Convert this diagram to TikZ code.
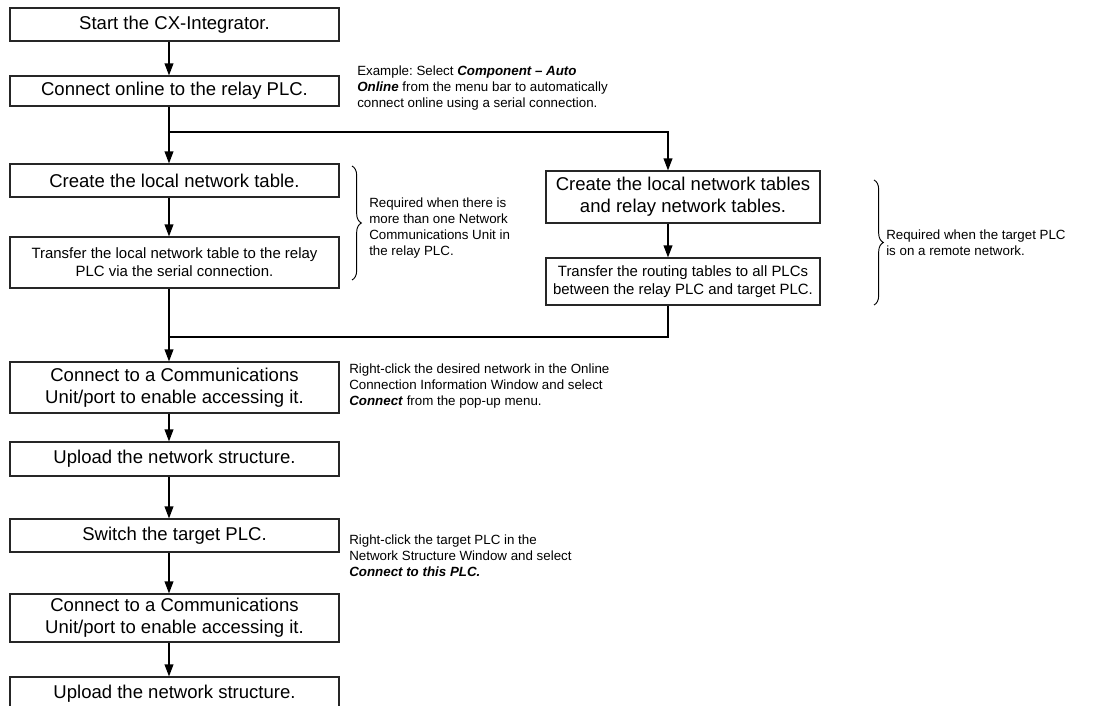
\documentclass[tikz,border=0pt]{standalone}
\usepackage{fontspec}
\setmainfont{Liberation Sans}
\usetikzlibrary{arrows.meta,decorations.pathreplacing,shadows}
\frenchspacing

\begin{document}
\begin{tikzpicture}[x=0.75pt,y=-0.75pt,
  flowbox/.style={draw=black!85, line width=0.8pt, fill=white, inner sep=0pt, align=center,
    drop shadow={shadow xshift=1pt, shadow yshift=-1pt, fill=black!45, opacity=0.6}},
  leftbox/.style={flowbox, minimum width=246.75pt},
  rightbox/.style={flowbox, minimum width=205.5pt},
  big/.style={font=\fontsize{13.9}{16.6}\selectfont},
  small/.style={font=\fontsize{11.2}{13.6}\selectfont},
  note/.style={font=\fontsize{10}{12}\selectfont, align=left, inner sep=0pt, anchor=west},
  flow/.style={line width=1.1pt, -{Triangle[length=9pt,width=6.5pt]}},
  link/.style={line width=1.1pt},
  curly/.style={decorate, decoration={brace, amplitude=7pt}, line width=0.7pt}
]
\useasboundingbox (0,0) rectangle (1102,706);

% reference lines for the connectors
\coordinate (ax) at (169,0);
\coordinate (rx) at (668,0);
\coordinate (split) at (169,132);
\coordinate (join) at (169,337);

% main column
\node[leftbox, big, minimum height=24.75pt] (b1) at (174.5,24.5) {Start the CX-Integrator.};
\node[leftbox, big, minimum height=22.5pt]  (b2) at (174.5,91) {Connect online to the relay PLC.};
\node[leftbox, big, minimum height=24.75pt] (b3) at (174.5,180.5) {Create the local network table.};
\node[leftbox, small, minimum height=38.25pt] (b4) at (174.5,262.5) {Transfer the local network table to the relay\\PLC via the serial connection.};
\node[leftbox, big, minimum height=38.25pt] (b5) at (174.5,387.5) {Connect to a Communications\\Unit/port to enable accessing it.};
\node[leftbox, big, minimum height=25.5pt]  (b6) at (174.5,459) {Upload the network structure.};
\node[leftbox, big, minimum height=24.75pt] (b7) at (174.5,535.5) {Switch the target PLC.};
\node[leftbox, big, minimum height=36pt]    (b8) at (174.5,618) {Connect to a Communications\\Unit/port to enable accessing it.};
\node[leftbox, big, minimum height=25.5pt]  (b9) at (174.5,694) {Upload the network structure.};

% remote-network branch
\node[rightbox, big, minimum height=39pt]    (ra) at (683,197) {Create the local network tables\\and relay network tables.};
\node[rightbox, small, minimum height=35.25pt] (rb) at (683,281.5) {Transfer the routing tables to all PLCs\\between the relay PLC and target PLC.};

% connectors
\draw[flow] (b1.south -| ax) -- (b2.north -| ax);
\draw[flow] (b2.south -| ax) -- (b3.north -| ax);
\draw[flow] (split) -| (ra.north -| rx);
\draw[flow] (b3.south -| ax) -- (b4.north -| ax);
\draw[flow] (ra.south -| rx) -- (rb.north -| rx);
\draw[flow] (b4.south -| ax) -- (b5.north -| ax);
\draw[link] (rb.south -| rx) |- (join);
\draw[flow] (b5.south -| ax) -- (b6.north -| ax);
\draw[flow] (b6.south -| ax) -- (b7.north -| ax);
\draw[flow] (b7.south -| ax) -- (b8.north -| ax);
\draw[flow] (b8.south -| ax) -- (b9.north -| ax);

% braces
\coordinate (lbt) at (352,166);
\coordinate (lbb) at (352,280);
\coordinate (rbt) at (874,180);
\coordinate (rbb) at (874,305);
\draw[curly] (lbt) -- (lbb);
\draw[curly] (rbt) -- (rbb);

% annotations
\node[note] (n1) at (357,88) {Example: Select \textbf{\textit{Component – Auto}}\\\textbf{\textit{Online}} from the menu bar to automatically\\connect online using a serial connection.};
\node[note] (nl) at (369,228) {Required when there is\\more than one Network\\Communications Unit in\\the relay PLC.};
\node[note] (nr) at (886,242.5) {Required when the target PLC\\is on a remote network.};
\node[note] (n2) at (349,386) {Right-click the desired network in the Online\\Connection Information Window and select\\\textbf{\textit{Connect}} from the pop-up menu.};
\node[note] (n3) at (349,556) {Right-click the target PLC in the\\Network Structure Window and select\\\textbf{\textit{Connect to this PLC.}}};
\end{tikzpicture}
\end{document}
